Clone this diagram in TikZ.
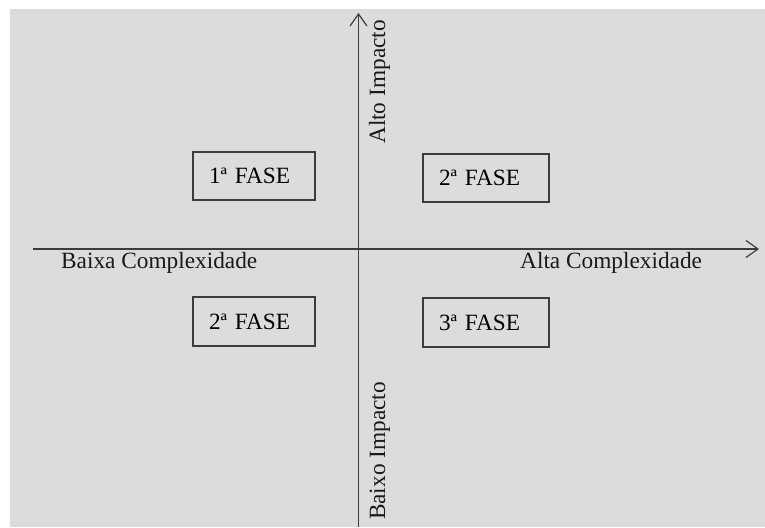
\documentclass[tikz,border=0pt]{standalone}
\usepackage{fontspec}
\setmainfont{Liberation Serif}
\usetikzlibrary{arrows.meta}
\definecolor{fundo}{RGB}{220,220,220}
\definecolor{traco}{RGB}{60,60,60}
\tikzset{
  fase/.style={draw=traco,line width=1.3pt,inner xsep=16pt,align=left,minimum height=48pt},
  eixo/.style={draw=traco,line width=1.3pt,-{Straight Barb[length=12pt,width=17pt,line width=1.2pt]}},
  rotulo/.style={inner sep=0pt,text=black!90}
}
\begin{document}
\begin{tikzpicture}[x=1pt,y=1pt,font=\fontsize{23.3}{28}\selectfont]
\useasboundingbox (0,0) rectangle (765,527);
%background
\fill[fundo] (10,0) rectangle (765,518);
%axis
\coordinate (xL) at (33,278);
\coordinate (xR) at (759,278);
\coordinate (yB) at (358.5,0);
\coordinate (yT) at (358.5,514);
\draw[eixo] (xL)--(xR);
\draw[eixo] (yB)--(yT);
\node[rotulo,anchor=base west] (baixaC) at (61,258) {Baixa Complexidade};
\node[rotulo,anchor=base west] (altaC) at (520,258) {Alta Complexidade};
\node[rotulo,anchor=base,rotate=90] (altoI) at (385,445) {Alto Impacto};
\node[rotulo,anchor=base,rotate=90] (baixoI) at (385,76) {Baixo Impacto};
%phases
\node[fase,text width=90pt] (f1) at (254,351) {1ª FASE};
\node[fase,text width=94pt] (f2a) at (486,349) {2ª FASE};
\node[fase,text width=90pt,minimum height=49pt] (f2b) at (254,205.5) {2ª FASE};
\node[fase,text width=94pt,minimum height=49pt] (f3) at (486,204.5) {3ª FASE};
\end{tikzpicture}
\end{document}
